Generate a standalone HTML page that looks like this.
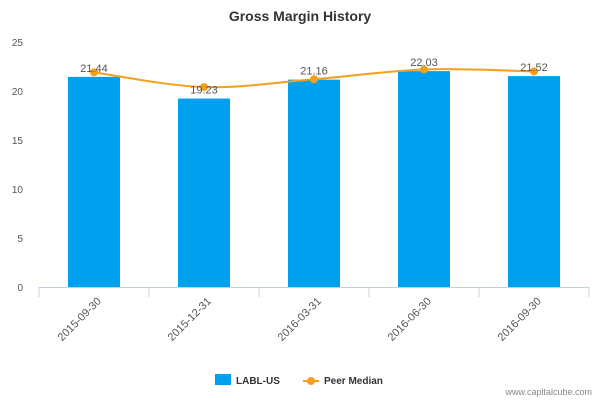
<!DOCTYPE html>
<html><head><meta charset="utf-8"><style>
body{margin:0;background:#fff;font-family:"Liberation Sans",sans-serif}
svg text{font-family:"Liberation Sans","DejaVu Sans",sans-serif}
</style></head><body>
<svg id="c" width="600" height="400" xmlns="http://www.w3.org/2000/svg">
<text x="300" y="21" text-anchor="middle" font-size="14" font-weight="bold" fill="#333">Gross Margin History</text>
<g id="axes"></g><g id="bars"></g><g id="line"></g>
<g>
<rect x="215" y="374" width="16" height="11" fill="#00a0f0"/>
<text x="236" y="384" font-size="10" font-weight="bold" fill="#333">LABL-US</text>
<line x1="303" y1="381" x2="319" y2="381" stroke="#f5a01a" stroke-width="2"/>
<circle cx="311" cy="381" r="4" fill="#f5a01a"/>
<text x="324" y="384" font-size="10" font-weight="bold" fill="#333">Peer Median</text>
</g>
<text x="592" y="395" text-anchor="end" font-size="9" fill="#888">www.capitalcube.com</text>
</svg>
<script>
const categories=["2015-09-30","2015-12-31","2016-03-31","2016-06-30","2016-09-30"];
const barValues=[21.44,19.23,21.16,22.03,21.52];
const peerValues=[21.9,20.4,21.2,22.2,22.0];
const yTicks=[0,5,10,15,20,25];
const NS="http://www.w3.org/2000/svg";
const x0=39,x1=589,yBase=287,yTop=42,yMax=25;
const bw=(x1-x0)/categories.length;
const X=i=>x0+bw*(i+0.5);
const Y=v=>yBase-(v/yMax)*(yBase-yTop);
function mk(p,t,a){const e=document.createElementNS(NS,t);for(const k in a)e.setAttribute(k,a[k]);p.appendChild(e);return e;}
const ax=document.getElementById('axes'),bg=document.getElementById('bars'),lg=document.getElementById('line');
yTicks.forEach(v=>{const t=mk(ax,'text',{x:23,y:Y(v)+4,'text-anchor':'end','font-size':'10',fill:'#555'});t.textContent=v;

});
const base=mk(ax,'line',{x1:x0,y1:yBase+0.5,x2:x1,y2:yBase+0.5,stroke:'#c0d0e0'});


for(let i=0;i<=categories.length;i++){const tk=mk(ax,'line',{x1:x0+bw*i,y1:yBase,x2:x0+bw*i,y2:yBase+10,stroke:'#c0d0e0'});

}
categories.forEach((c,i)=>{const cx=X(i),ty=yBase+12;
const t=mk(ax,'text',{x:cx+5,y:ty+4,'text-anchor':'end','font-size':'11',fill:'#555',transform:`rotate(-45 ${cx+5} ${ty})`});t.textContent=c;

});
barValues.forEach((v,i)=>{const r=mk(bg,'rect',{x:X(i)-26,y:Y(v),width:52,height:yBase-Y(v),fill:'#00a0f0'});

});
const pts=peerValues.map((v,i)=>[X(i),Y(v)]);
let d=`M${pts[0][0]},${pts[0][1]}`;
for(let i=0;i<pts.length-1;i++){const p0=pts[i-1]||pts[i],p1=pts[i],p2=pts[i+1],p3=pts[i+2]||p2;
d+=` C${p1[0]+(p2[0]-p0[0])/6},${p1[1]+(p2[1]-p0[1])/6} ${p2[0]-(p3[0]-p1[0])/6},${p2[1]-(p3[1]-p1[1])/6} ${p2[0]},${p2[1]}`;}
const path=mk(lg,'path',{d:d,fill:'none',stroke:'#f5a01a','stroke-width':2});


pts.forEach((p,i)=>{const c=mk(lg,'circle',{cx:p[0],cy:p[1],r:4,fill:'#f5a01a'});

});
barValues.forEach((v,i)=>{const t=mk(lg,'text',{x:X(i),y:Y(v)-5,'text-anchor':'middle','font-size':'11',fill:'#555'});t.textContent=v.toFixed(2);

});
</script>
</body></html>
